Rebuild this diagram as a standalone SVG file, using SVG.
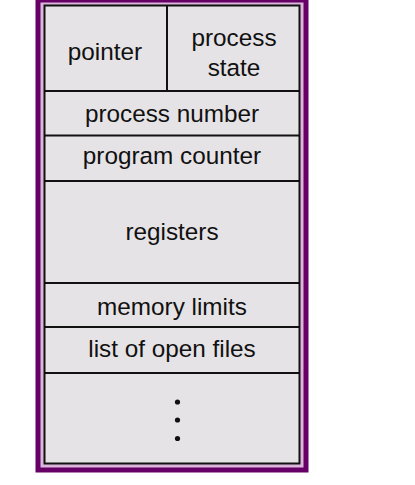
<svg xmlns="http://www.w3.org/2000/svg" width="415" height="485" viewBox="0 0 415 485">
<style>
.lbl{font-family:"Liberation Sans",Arial,sans-serif;font-size:24.3px;fill:#111;text-anchor:middle}
.div{stroke:#111;stroke-width:2;fill:none}
</style>
<rect x="0" y="0" width="415" height="485" fill="#ffffff"/>
<g id="frame">
<rect x="38" y="0" width="268" height="470" fill="#dcb6dc" stroke="#660066" stroke-width="5"/>
<rect x="44.5" y="5.5" width="255" height="458" fill="#e6e3e6" stroke="#111" stroke-width="2"/>
</g>
<g id="connectors">
<line class="div" x1="167" y1="5.5" x2="167" y2="91"/>
<line class="div" x1="44.5" y1="91" x2="299.5" y2="91"/>
<line class="div" x1="44.5" y1="135.5" x2="299.5" y2="135.5"/>
<line class="div" x1="44.5" y1="181" x2="299.5" y2="181"/>
<line class="div" x1="44.5" y1="283" x2="299.5" y2="283"/>
<line class="div" x1="44.5" y1="327" x2="299.5" y2="327"/>
<line class="div" x1="44.5" y1="373" x2="299.5" y2="373"/>
</g>
<g id="pointer"><text class="lbl" x="105" y="60">pointer</text></g>
<g id="process-state"><text class="lbl" x="234" y="46">process</text><text class="lbl" x="234" y="76">state</text></g>
<g id="process-number"><text class="lbl" x="172" y="121.5">process number</text></g>
<g id="program-counter"><text class="lbl" x="172" y="164">program counter</text></g>
<g id="registers"><text class="lbl" x="172" y="240">registers</text></g>
<g id="memory-limits"><text class="lbl" x="172" y="315">memory limits</text></g>
<g id="open-files"><text class="lbl" x="172" y="357">list of open files</text></g>
<g id="more">
<circle cx="177.5" cy="402" r="2.6" fill="#111"/>
<circle cx="177.5" cy="420" r="2.6" fill="#111"/>
<circle cx="177.5" cy="438.5" r="2.6" fill="#111"/>
</g>
</svg>
